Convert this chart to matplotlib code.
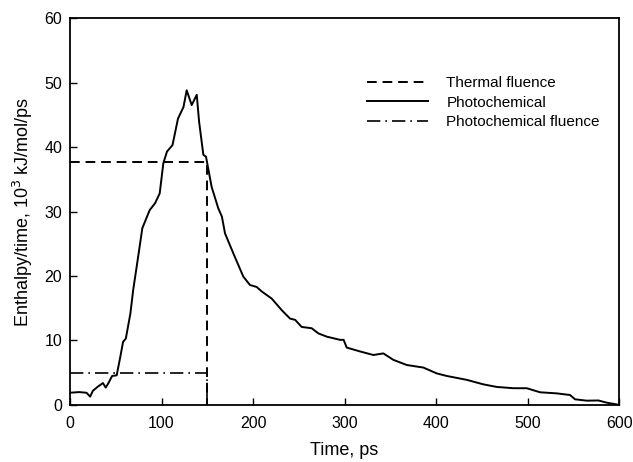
import matplotlib.pyplot as plt

plt.rcParams['font.family'] = ['Liberation Sans', 'DejaVu Sans']

# Photochemical enthalpy rate
time = [0, 10, 18, 22, 25, 30, 36, 39, 42, 46, 51, 55, 58, 61, 66, 69, 75, 79, 87, 93,
        98, 102, 106, 112, 118, 124, 127.5, 133, 138.5, 141, 145.7, 148.6, 154.8, 162, 166,
        169.4, 178.5, 189.4, 196.7, 204, 209.5, 220.4, 231.4, 240.4, 246, 253.2, 264.1,
        271.4, 280.5, 295, 299, 302.4, 317, 331.5, 342.4, 353.3, 368, 386.2, 400.7, 411.7,
        433.5, 451.7, 466.3, 484.5, 499.1, 513.7, 531.9, 546.4, 551.9, 564.7, 577.4,
        586.5, 597, 600]
enthalpy = [1.9, 2.0, 1.9, 1.3, 2.2, 2.8, 3.4, 2.7, 3.4, 4.5, 4.6, 7.5, 9.8, 10.3, 14.2,
            17.8, 23.5, 27.4, 30.2, 31.3, 32.8, 37.5, 39.3, 40.3, 44.4, 46.2, 48.8, 46.5,
            48.1, 44.0, 38.8, 38.5, 33.8, 30.5, 29.2, 26.6, 23.5, 19.9, 18.6, 18.3, 17.6,
            16.5, 14.7, 13.4, 13.2, 12.1, 11.9, 11.1, 10.6, 10.1, 10.1, 8.9, 8.3, 7.75,
            8.0, 7.0, 6.2, 5.8, 4.9, 4.5, 3.9, 3.2, 2.8, 2.6, 2.6, 1.97, 1.8, 1.55, 0.88,
            0.67, 0.7, 0.36, 0.1, 0.0]

# Fluence step profiles
fluence_time = [0, 150, 150]
thermal_fluence = [37.6, 37.6, 0]
photo_fluence = [4.9, 4.9, 0]

fig = plt.figure(figsize=(6.33, 4.62), dpi=100)
ax = fig.add_axes([0.1106, 0.1234, 0.8674, 0.8376])

ax.plot(fluence_time, thermal_fluence, color='black', lw=1.4, ls=(0, (5, 3)),
        label='Thermal fluence')
ax.plot(time, enthalpy, color='black', lw=1.4, label='Photochemical')
ax.plot(fluence_time, photo_fluence, color='black', lw=1.2, ls=(0, (8, 3, 1, 3)),
        label='Photochemical fluence')

ax.set_xlim(0, 600)
ax.set_ylim(0, 60)
ax.set_xticks(range(0, 601, 100))
ax.set_yticks(range(0, 61, 10))
ax.tick_params(direction='in', length=5, width=1, labelsize=11.5, top=False, right=False)
ax.tick_params(axis='x', pad=8)
ax.tick_params(axis='y', pad=5.5)
for s in ax.spines.values():
    s.set_linewidth(1.3)

ax.set_xlabel('Time, ps', fontsize=13, labelpad=8)
ax.set_ylabel('Enthalpy/time, 10$^3$ kJ/mol/ps', fontsize=13, labelpad=7)

ax.legend(loc='upper right', bbox_to_anchor=(0.99, 0.885), frameon=False, fontsize=11,
          handlelength=4, labelspacing=0.35, handletextpad=1.2)

fig.savefig('out.png', dpi=100)
